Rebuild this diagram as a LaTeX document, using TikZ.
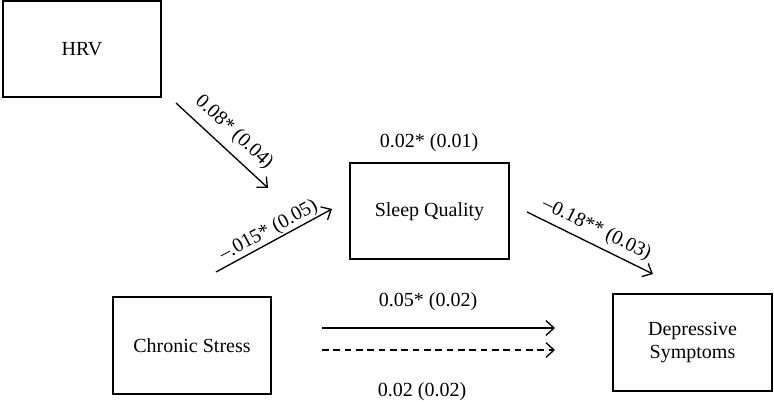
\documentclass[tikz,border=0pt]{standalone}
\usepackage{fontspec}
\setmainfont{Liberation Serif}
\usetikzlibrary{arrows.meta,positioning}

\begin{document}
\begin{tikzpicture}[x=0.75pt,y=-0.75pt,font=\fontsize{15}{17.5}\selectfont,
  varbox/.style={draw, line width=1.5pt, minimum width=119pt, minimum height=72pt, inner sep=0pt, align=center},
  effect/.style={line width=1pt, -{Straight Barb[length=6pt,width=11pt]}}]
\useasboundingbox (0,0) rectangle (774,402);
\node[varbox] (hrv) at (82,49.5) {HRV};
\node[varbox] (sleep) at (429.5,211.5) {Sleep Quality};
\node[varbox] (stress) at (192,345.5) {Chronic Stress};
\node[varbox] (dep) at (692.5,342.5) {Depressive\\Symptoms};
\coordinate (hrvS) at (176,103);
\coordinate (hrvE) at (268,188);
\coordinate (csS) at (216,272);
\coordinate (csE) at (332,209);
\coordinate (sqS) at (527,212);
\coordinate (sqE) at (653,274);
\coordinate (totS) at (322,328);
\coordinate (totE) at (555,328);
\coordinate (dirS) at (322,350);
\coordinate (dirE) at (555,350);
\draw[effect] (hrvS) -- (hrvE) node[midway, sloped, above, inner sep=6pt] {0.08* (0.04)};
\draw[effect] (csS) -- (csE) node[midway, sloped, above, inner sep=1pt] {--.015* (0.05)};
\draw[effect] (sqS) -- (sqE) node[midway, sloped, above, inner sep=4pt] {--0.18** (0.03)};
\draw[effect] (totS) -- (totE);
\draw[effect, dash pattern=on 5pt off 3.5pt] (dirS) -- (dirE);
\node (ind) at (429,143) {0.02* (0.01)};
\node (tot) at (428,302) {0.05* (0.02)};
\node (dir) at (422,392) {0.02 (0.02)};
\end{tikzpicture}
\end{document}
